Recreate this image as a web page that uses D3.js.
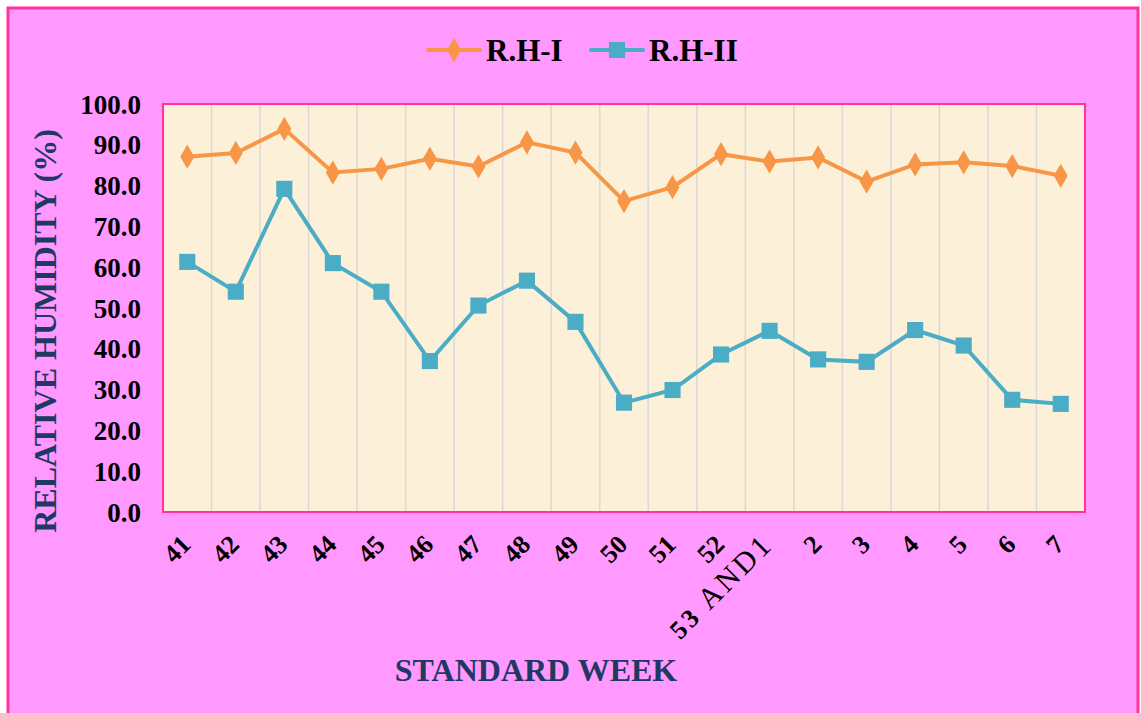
<!DOCTYPE html>
<html>
<head>
<meta charset="utf-8">
<script src="https://d3js.org/d3.v7.min.js"></script>
<style>
  body { margin: 0; background: #fff; }
  svg text { font-family: "Liberation Serif", "Times New Roman", serif; font-weight: bold; }
</style>
</head>
<body>
<div id="chart"></div>
<script>
const weeks = ['41', '42', '43', '44', '45', '46', '47', '48', '49', '50', '51', '52',
  '53 AND1', '2', '3', '4', '5', '6', '7'];
const rh1 = [87.1, 88.0, 93.9, 83.2, 84.1, 86.6, 84.7, 90.6, 88.1, 76.2, 79.6, 87.7,
  85.9, 86.9, 81.0, 85.2, 85.7, 84.8, 82.4];
const rh2 = [61.3, 54.0, 79.2, 61.0, 54.0, 37.0, 50.6, 56.7, 46.6, 26.8, 29.9, 38.6,
  44.4, 37.4, 36.8, 44.6, 40.8, 27.5, 26.5];
const yTicks = [0, 10, 20, 30, 40, 50, 60, 70, 80, 90, 100];

const W = 1141, H = 713;
const plot = { x: 163, y: 104, w: 922, h: 408 };
const navy = '#1f3864';

const svg = d3.select('#chart').append('svg')
  .attr('width', W)
  .attr('height', H);

svg.append('rect')
  .attr('x', 8).attr('y', 8)
  .attr('width', W - 11).attr('height', H - 4)
  .attr('fill', '#ff99ff')
  .attr('stroke', '#ff3399')
  .attr('stroke-width', 3);

const x = d3.scaleBand().domain(weeks).range([0, plot.w]);
const y = d3.scaleLinear().domain([0, 100]).range([plot.h, 0]);

const g = svg.append('g')
  .attr('transform', `translate(${plot.x}, ${plot.y})`);

g.append('rect')
  .attr('width', plot.w).attr('height', plot.h)
  .attr('fill', '#fdf0d8');

// vertical gridlines at category boundaries
g.selectAll('.grid')
  .data(weeks.slice(1))
  .enter()
  .append('line')
    .attr('x1', d => x(d)).attr('x2', d => x(d))
    .attr('y1', 0).attr('y2', plot.h)
    .attr('stroke', '#d9d9d9')
    .attr('stroke-width', 1.5);

g.append('rect')
  .attr('width', plot.w).attr('height', plot.h)
  .attr('fill', 'none')
  .attr('stroke', '#ff3399')
  .attr('stroke-width', 2);

// y axis labels
const yAxis = g.append('g')
  .call(d3.axisLeft(y).tickValues(yTicks).tickFormat(d3.format('.1f')).tickSize(0).tickPadding(22));
yAxis.select('.domain').remove();
yAxis.selectAll('text')
  .attr('font-size', 27)
  .attr('fill', '#000')
  .attr('dy', '0.34em')
  .style('font-family', '"Liberation Serif", serif')
  .style('font-weight', 'bold');

// x axis labels, rotated
const xAxis = g.append('g')
  .attr('transform', `translate(0, ${plot.h})`)
  .call(d3.axisBottom(x).tickSize(0).tickPadding(0));
xAxis.select('.domain').remove();
xAxis.selectAll('text')
  .attr('font-size', 26)
  .attr('fill', '#000')
  .attr('text-anchor', 'end')
  .attr('dy', 0)
  .attr('transform', 'translate(5, 34) rotate(-45)')
  .style('font-family', '"Liberation Serif", serif')
  .style('font-weight', 'bold');

// the long label: "53" bold, "AND1" plain and spaced out
xAxis.selectAll('text')
  .filter(d => d === '53 AND1')
  .text(null)
  .attr('letter-spacing', 3)
  .call(t => {
    t.append('tspan').text('53 ');
    t.append('tspan').attr('font-size', 30).style('font-weight', 'normal').text('AND1');
  });

const cx = d => x(d) + x.bandwidth() / 2;

const line = d3.line()
  .x((d, i) => cx(weeks[i]))
  .y(d => y(d));

const series = [
  { name: 'R.H-I', values: rh1, color: '#f79646', shape: d3.symbolDiamond, size: 170 },
  { name: 'R.H-II', values: rh2, color: '#4bacc6', shape: d3.symbolSquare, size: 260 }
];

series.forEach(s => {
  g.append('path')
    .datum(s.values)
    .attr('d', line)
    .attr('fill', 'none')
    .attr('stroke', s.color)
    .attr('stroke-width', 4);
  g.selectAll(null)
    .data(s.values)
    .enter()
    .append('path')
      .attr('d', d3.symbol().type(s.shape).size(s.size))
      .attr('transform', (d, i) => `translate(${cx(weeks[i])}, ${y(d)})`)
      .attr('fill', s.color);
});

// legend
const legendPos = [428, 591];
series.forEach((s, i) => {
  const lg = svg.append('g').attr('transform', `translate(${legendPos[i]}, 50)`);
  lg.append('line')
    .attr('x1', 0).attr('x2', 52)
    .attr('stroke', s.color)
    .attr('stroke-width', 4)
    .attr('stroke-linecap', 'round');
  lg.append('path')
    .attr('d', d3.symbol().type(s.shape).size(s.size))
    .attr('transform', 'translate(26, 0)')
    .attr('fill', s.color);
  lg.append('text')
    .attr('x', 58).attr('y', 11)
    .attr('font-size', 31)
    .text(s.name);
});

// axis titles
svg.append('text')
  .attr('transform', `translate(56, 331) rotate(-90)`)
  .attr('text-anchor', 'middle')
  .attr('font-size', 32)
  .attr('fill', navy)
  .text('RELATIVE HUMIDITY (%)');

svg.append('text')
  .attr('x', 536).attr('y', 681)
  .attr('text-anchor', 'middle')
  .attr('font-size', 32)
  .attr('fill', navy)
  .text('STANDARD WEEK');
</script>
</body>
</html>
